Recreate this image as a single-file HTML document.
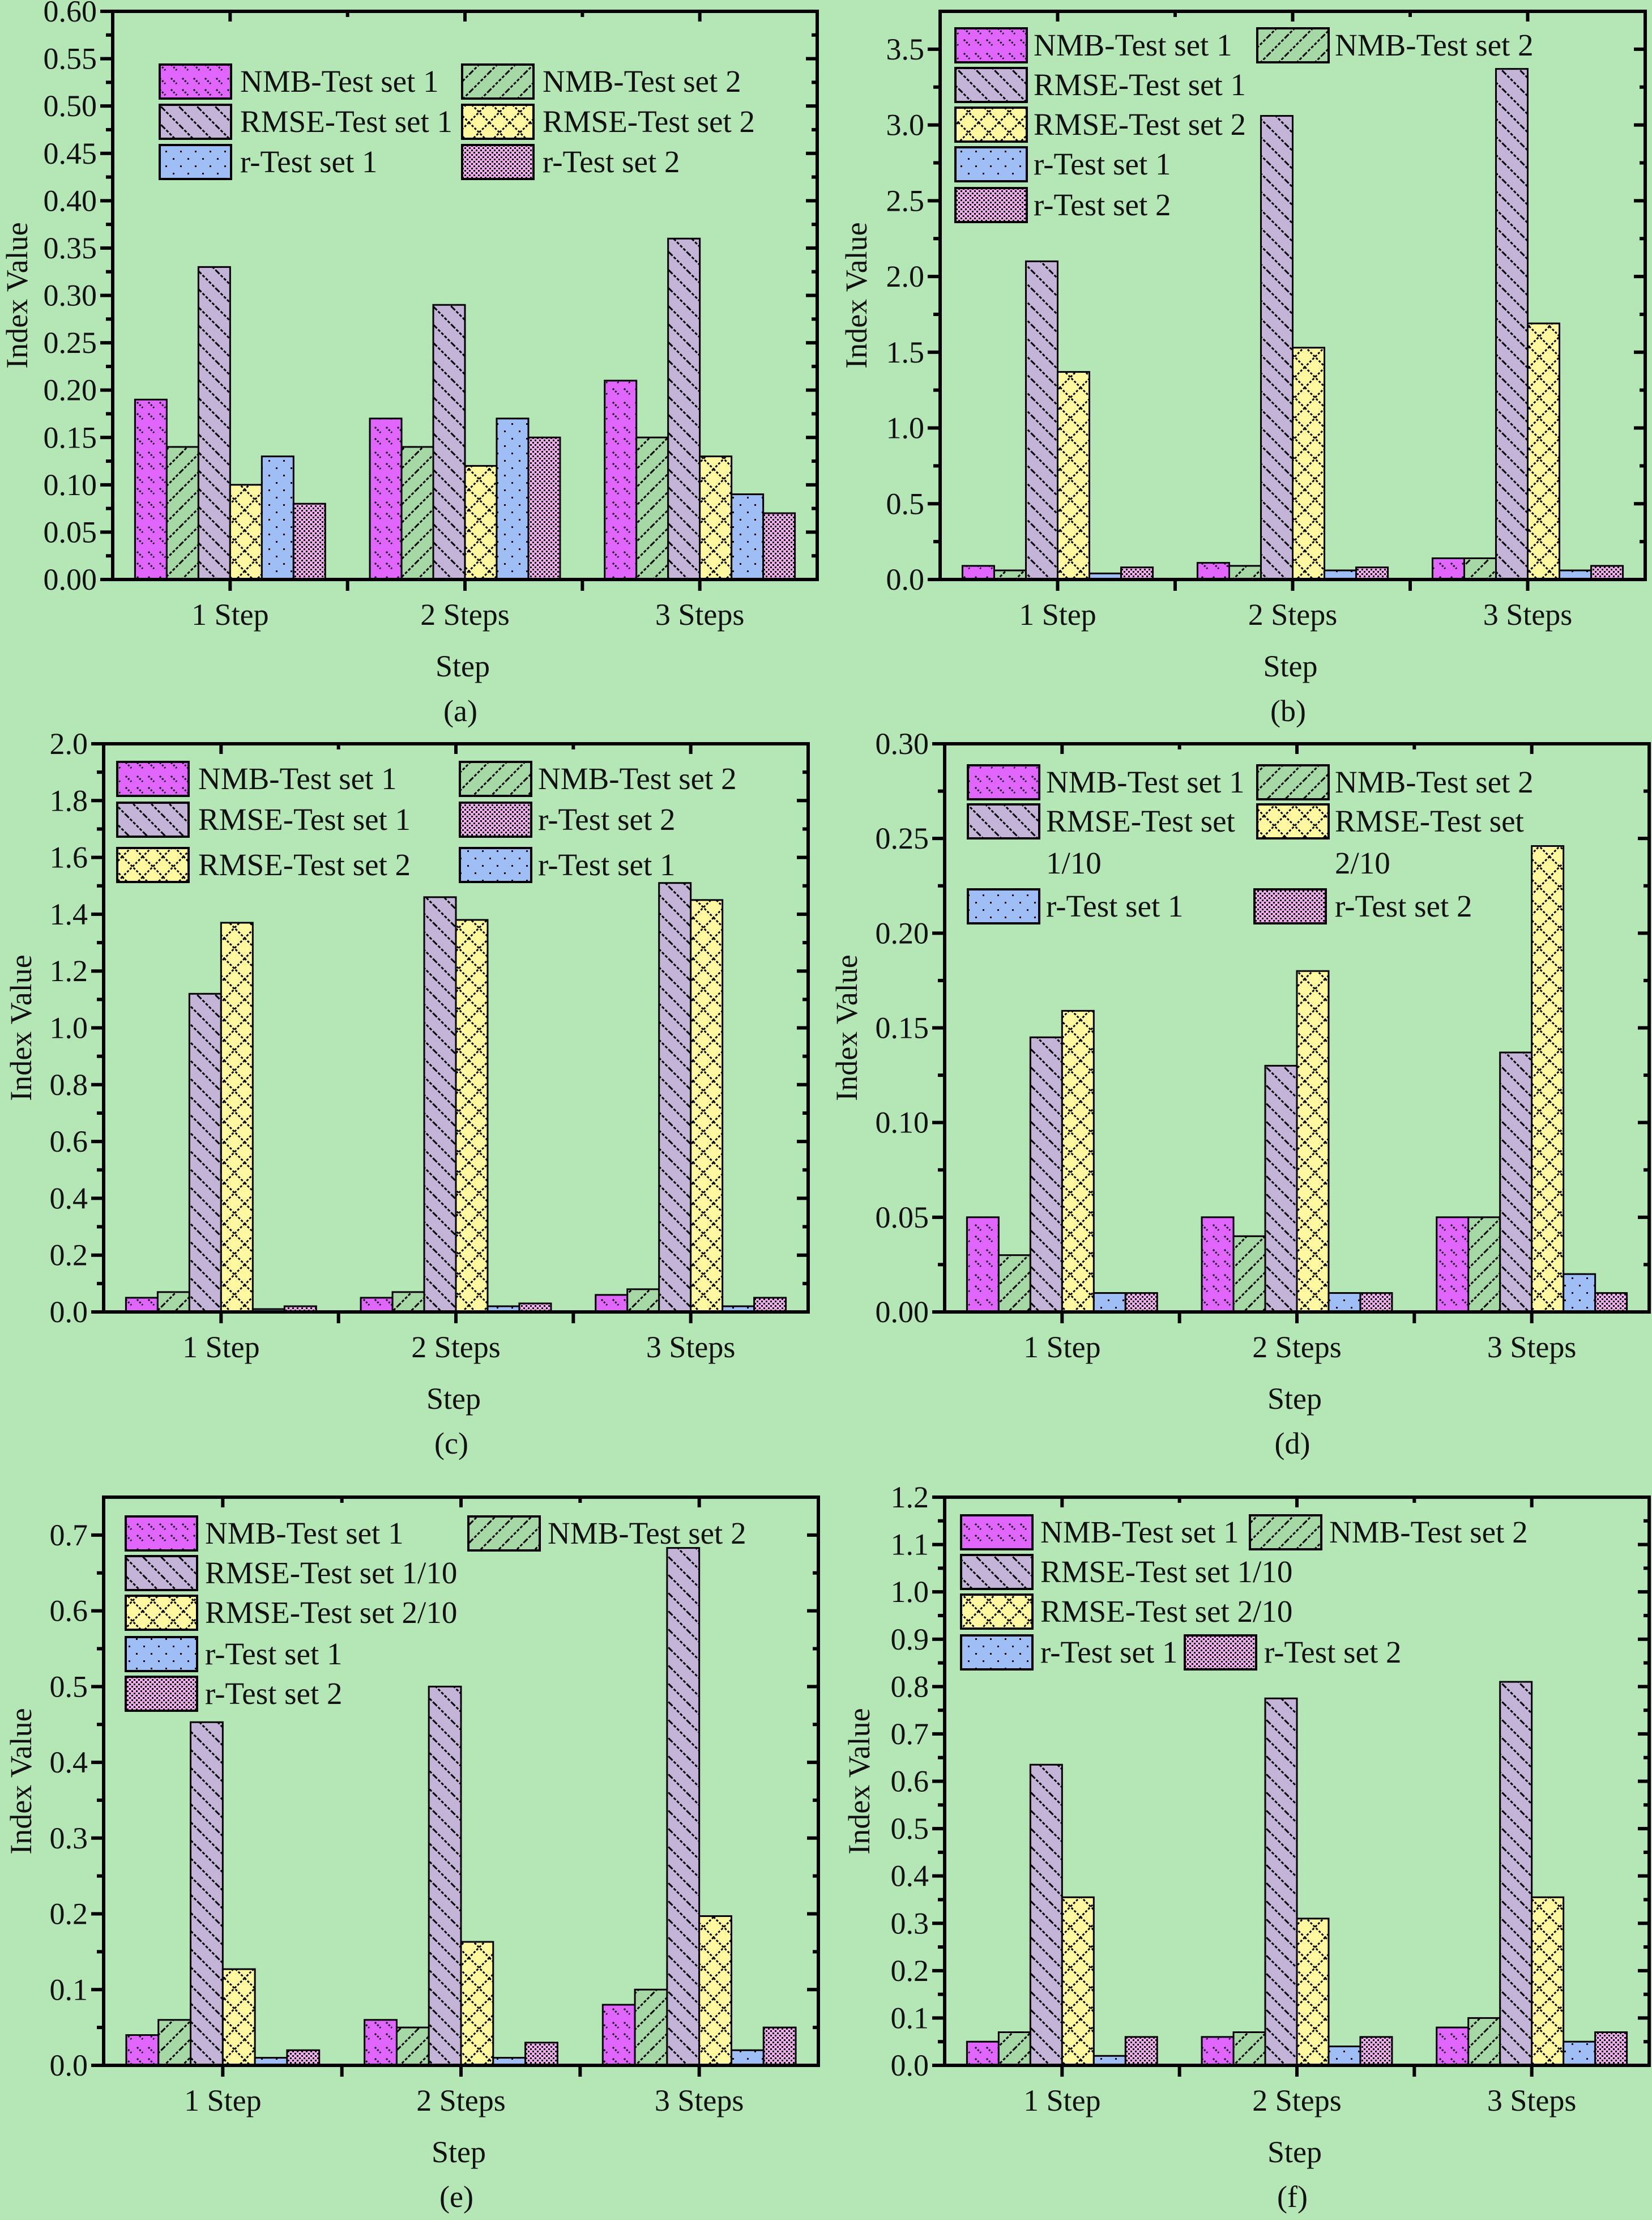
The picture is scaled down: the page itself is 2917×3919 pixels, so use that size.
<!DOCTYPE html>
<html><head><meta charset="utf-8">
<style>
html,body{margin:0;padding:0;background:#b5e6b6;}
svg{display:block;}
text{font-family:"Liberation Serif","Times New Roman",serif;fill:#111;}
</style></head>
<body>
<svg id="fig" width="2917" height="3919" viewBox="0 0 2917 3919" xmlns="http://www.w3.org/2000/svg" font-family="Liberation Serif, serif">
<defs>
<pattern id="pNMB1" width="20" height="44" patternUnits="userSpaceOnUse">
<rect width="20" height="44" fill="#e066ff"/>
<path d="M2 6 L12 16 M2 26 L12 36" stroke="#000" stroke-width="3" stroke-dasharray="3 3"/>
</pattern>
<pattern id="pNMB2" width="32" height="32" patternUnits="userSpaceOnUse">
<rect width="32" height="32" fill="#a6d8a6"/>
<path d="M0 32 L32 0 M-8 8 L8 -8 M24 40 L40 24" stroke="#000" stroke-width="3" stroke-dasharray="5 3"/>
</pattern>
<pattern id="pRMSE1" width="32" height="32" patternUnits="userSpaceOnUse">
<rect width="32" height="32" fill="#c4b4d8"/>
<path d="M0 0 L32 32 M-8 24 L8 40 M24 -8 L40 8" stroke="#000" stroke-width="3" stroke-dasharray="5 3"/>
</pattern>
<pattern id="pRMSE2" width="36" height="36" patternUnits="userSpaceOnUse">
<rect width="36" height="36" fill="#fff8a0"/>
<path d="M0 0 L36 36 M36 0 L0 36" stroke="#000" stroke-width="3" stroke-dasharray="4 3"/>
</pattern>
<pattern id="pR1" width="26" height="26" patternUnits="userSpaceOnUse">
<rect width="26" height="26" fill="#9fbef5"/>
<rect x="6" y="6" width="3" height="3" fill="#000"/>
<rect x="19" y="19" width="3" height="3" fill="#000"/>
</pattern>
<pattern id="pR2" width="8" height="8" patternUnits="userSpaceOnUse">
<rect width="8" height="8" fill="#f6a8f2"/>
<rect x="0" y="0" width="3" height="3" fill="#000"/>
<rect x="4" y="4" width="3" height="3" fill="#000"/>
</pattern>
</defs>
</svg>
<script>
const categories = ["1 Step","2 Steps","3 Steps"];
const seriesNames = ["NMB-Test set 1","NMB-Test set 2","RMSE-Test set 1","RMSE-Test set 2","r-Test set 1","r-Test set 2"];
// values per series [1 Step, 2 Steps, 3 Steps], series order NMB1, NMB2, RMSE1, RMSE2, r1, r2
const aNMB1=[0.19,0.17,0.21], aNMB2=[0.14,0.14,0.15], aRMSE1=[0.33,0.29,0.36], aRMSE2=[0.10,0.12,0.13], aR1=[0.13,0.17,0.09], aR2=[0.08,0.15,0.07];
const bNMB1=[0.09,0.11,0.14], bNMB2=[0.06,0.09,0.14], bRMSE1=[2.10,3.06,3.37], bRMSE2=[1.37,1.53,1.69], bR1=[0.04,0.06,0.06], bR2=[0.08,0.08,0.09];
const cNMB1=[0.05,0.05,0.06], cNMB2=[0.07,0.07,0.08], cRMSE1=[1.12,1.46,1.51], cRMSE2=[1.37,1.38,1.45], cR1=[0.01,0.02,0.02], cR2=[0.02,0.03,0.05];
const dNMB1=[0.05,0.05,0.05], dNMB2=[0.03,0.04,0.05], dRMSE1=[0.145,0.13,0.137], dRMSE2=[0.159,0.18,0.246], dR1=[0.01,0.01,0.02], dR2=[0.01,0.01,0.01];
const eNMB1=[0.04,0.06,0.08], eNMB2=[0.06,0.05,0.10], eRMSE1=[0.453,0.50,0.683], eRMSE2=[0.127,0.163,0.197], eR1=[0.01,0.01,0.02], eR2=[0.02,0.03,0.05];
const fNMB1=[0.05,0.06,0.08], fNMB2=[0.07,0.07,0.10], fRMSE1=[0.635,0.775,0.81], fRMSE2=[0.355,0.31,0.355], fR1=[0.02,0.04,0.05], fR2=[0.06,0.06,0.07];
const yMaxes=[0.60,3.75,2.0,0.30,0.75,1.2];
const yStepTicks=[0.05,0.5,0.2,0.05,0.1,0.1];
const yDecimals=[2,1,1,2,1,1];
const panelLabels=["(a)","(b)","(c)","(d)","(e)","(f)"];

const fills=["url(#pNMB1)","url(#pNMB2)","url(#pRMSE1)","url(#pRMSE2)","url(#pR1)","url(#pR2)"];
const NS="http://www.w3.org/2000/svg";
const svg=document.getElementById('fig');
function mk(tag,attrs,parent){const e=document.createElementNS(NS,tag);for(const k in attrs)e.setAttribute(k,attrs[k]);(parent||svg).appendChild(e);return e;}

const panels=[
 {L:199,R:1443,T:20,B:1023,data:[aNMB1,aNMB2,aRMSE1,aRMSE2,aR1,aR2],ylx:30,
  legend:[[0,282,114,424],[1,816,114,958],[2,282,185,424],[3,816,185,958],[4,282,256,424],[5,816,256,958]]},
 {L:1660,R:2905,T:20,B:1023,data:[bNMB1,bNMB2,bRMSE1,bRMSE2,bR1,bR2],ylx:1512,
  legend:[[0,1687,50,1825],[1,2220,50,2357],[2,1687,120,1825],[3,1687,190,1825],[4,1687,260,1825],[5,1687,332,1825]]},
 {L:183,R:1427,T:1313,B:2316,data:[cNMB1,cNMB2,cRMSE1,cRMSE2,cR1,cR2],ylx:37,
  legend:[[0,207,1345,350],[1,812,1345,950],[2,207,1417,350],[5,812,1417,950],[3,207,1497,350],[4,812,1497,950]]},
 {L:1668,R:2912,T:1313,B:2316,data:[dNMB1,dNMB2,dRMSE1,dRMSE2,dR1,dR2],ylx:1495,
  legend:[[0,1709,1351,1847],[1,2220,1351,2357],[2,1709,1420,1847,"RMSE-Test set","1/10"],[3,2220,1420,2357,"RMSE-Test set","2/10"],[4,1709,1570,1847],[5,2215,1570,2357]]},
 {L:183,R:1445,T:2643,B:3646,data:[eNMB1,eNMB2,eRMSE1,eRMSE2,eR1,eR2],ylx:37,
  legend:[[0,222,2677,362],[1,827,2677,967],[2,222,2747,362,"RMSE-Test set 1/10"],[3,222,2817,362,"RMSE-Test set 2/10"],[4,222,2890,362],[5,222,2960,362]]},
 {L:1668,R:2912,T:2643,B:3646,data:[fNMB1,fNMB2,fRMSE1,fRMSE2,fR1,fR2],ylx:1517,
  legend:[[0,1697,2675,1837],[1,2207,2675,2347],[2,1697,2745,1837,"RMSE-Test set 1/10"],[3,1697,2815,1837,"RMSE-Test set 2/10"],[4,1697,2887,1837],[5,2092,2887,2232]]}
];

panels.forEach((p,pi)=>{
 const g=mk('g',{});
 
 
 const ymax=yMaxes[pi], step=yStepTicks[pi];
 const ys=v=>p.B-(v/ymax)*(p.B-p.T);
 const xs=v=>p.L+(v-0.5)/3*(p.R-p.L);
 const bw=0.135*(p.R-p.L)/3;
 p.data.forEach((ser,si)=>{
  ser.forEach((v,ci)=>{
   const x=xs(ci+1)+(si-3)*bw;
   const r=mk('rect',{x:x,y:ys(v),width:bw,height:p.B-ys(v),fill:fills[si],stroke:'#000','stroke-width':3},g);
   
   
  });
 });
 const fr=mk('rect',{x:p.L,y:p.T,width:p.R-p.L,height:p.B-p.T,fill:'none',stroke:'#000','stroke-width':6},g);
 
 
 const n=Math.floor(ymax/step+1e-6);
 for(let i=0;i<=n;i++){
  const v=i*step, y=ys(v);
  mk('line',{x1:p.L-22,x2:p.L,y1:y,y2:y,stroke:'#000','stroke-width':6},g);
  mk('line',{x1:p.R-20,x2:p.R,y1:y,y2:y,stroke:'#000','stroke-width':6},g);
  const t=mk('text',{x:p.L-28,y:y+18,'font-size':54,'text-anchor':'end'},g);
  t.textContent=v.toFixed(yDecimals[pi]);
  
  
  const mv=v+step/2;
  if(mv<ymax-1e-9){const my=ys(mv);
   mk('line',{x1:p.L-12,x2:p.L,y1:my,y2:my,stroke:'#000','stroke-width':6},g);
   mk('line',{x1:p.R-10,x2:p.R,y1:my,y2:my,stroke:'#000','stroke-width':6},g);}
 }
 for(let k=1;k<=5;k++){
  const x=xs(0.5+k*0.5);
  mk('line',{x1:x,x2:x,y1:p.B,y2:p.B+20,stroke:'#000','stroke-width':6},g);
  mk('line',{x1:x,x2:x,y1:p.T,y2:p.T+(k%2?18:10),stroke:'#000','stroke-width':6},g);
 }
 categories.forEach((c,ci)=>{
  const t=mk('text',{x:xs(ci+1),y:p.B+80,'font-size':54,'text-anchor':'middle'},g);
  t.textContent=c;
  
  
 });
 const cx=(p.L+p.R)/2;
 const xt=mk('text',{x:cx-4,y:p.B+171,'font-size':54,'text-anchor':'middle'},g);
 xt.textContent='Step';
 
 
 const pl=mk('text',{x:cx-8,y:p.B+250,'font-size':54,'text-anchor':'middle'},g);
 pl.textContent=panelLabels[pi];
 
 
 const cy=(p.T+p.B)/2;
 const yt=mk('text',{x:p.ylx+18,y:cy,'font-size':54,'text-anchor':'middle',transform:`rotate(-90 ${p.ylx+18} ${cy})`},g);
 yt.textContent='Index Value';
 
 
 p.legend.forEach(le=>{
  const [si,sx,sy,tx,l1,l2]=le;
  const sw=mk('rect',{x:sx,y:sy,width:126,height:60,fill:fills[si],stroke:'#000','stroke-width':4},g);
  
  
  const t=mk('text',{x:tx,y:sy+48,'font-size':55},g);
  t.textContent=l1||seriesNames[si];
  
  
  if(l2){const t2=mk('text',{x:tx,y:sy+48+74,'font-size':55},g);
   t2.textContent=l2;
   
   }
 });
});
</script>
</body></html>
